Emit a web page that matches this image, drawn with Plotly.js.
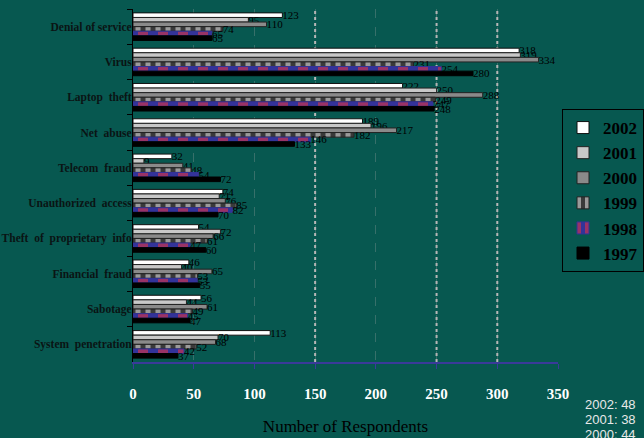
<!DOCTYPE html>
<html>
<head>
<meta charset="utf-8">
<script src="https://cdn.plot.ly/plotly-3.0.1.min.js"></script>
<style>html,body{margin:0;padding:0;background:#075850;}#chart{width:644px;height:438px;}</style>
</head>
<body>
<div id="chart"></div>
<script>
var categories = ["Denial of service","Virus","Laptop  theft","Net  abuse","Telecom  fraud","Unauthorized  access","Theft  of  proprietary  info","Financial  fraud","Sabotage","System  penetration"];
var years = ["2002","2001","2000","1999","1998","1997"];
var v2002 = [123,318,222,189,32,74,54,46,56,113];
var v2001 = [95,319,250,196,9,71,72,40,44,70];
var v2000 = [110,334,288,217,41,76,66,65,61,68];
var v1999 = [74,231,249,182,48,85,61,53,49,52];
var v1998 = [65,254,247,146,54,82,47,53,45,42];
var v1997 = [65,280,248,133,72,70,60,55,47,37];
var respondents = ["2002: 48","2001: 38","2000: 44"];
var xTicks = [0,50,100,150,200,250,300,350];
var strongGrid = [150,250,300];

var series = [v2002,v2001,v2000,v1999,v1998,v1997];
var markers = [
  {color:"#ffffff", line:{color:"#111111", width:1}},
  {color:"#c8c8c8", line:{color:"#222222", width:1}},
  {color:"#8a8a8a", line:{color:"#222222", width:1}},
  {color:"#3a3a3a", line:{color:"#222222", width:1}, pattern:{shape:"|", fgcolor:"#9a9a9a", bgcolor:"#3a3a3a", size:10, solidity:0.5}},
  {color:"#333399", line:{color:"#333399", width:1}, pattern:{shape:"|", fgcolor:"#993366", bgcolor:"#333399", size:20, solidity:0.5}},
  {color:"#000000", line:{color:"#000000", width:1}}
];
var serif = "Liberation Serif, Times New Roman, serif";
var traces = series.map(function(vals, i){
  return {
    type:"bar", orientation:"h", name:years[i], legendgroup:years[i],
    y:categories, x:vals, text:vals.map(String),
    textposition:"outside", constraintext:"none", cliponaxis:false,
    textfont:{family:serif, size:11, color:"#000000"},
    marker:markers[i], hoverinfo:"x+name"
  };
});

var shapes = strongGrid.map(function(v){
  return {type:"line", xref:"x", yref:"paper", x0:v, x1:v, y0:0, y1:1,
          line:{color:"#b8b8b8", width:2, dash:"dot"}, layer:"below"};
});

var annotations = respondents.map(function(t, i){
  return {xref:"paper", yref:"paper", x:(583-133)/425, y:(362-404-i*15)/353,
          xanchor:"left", yanchor:"middle", showarrow:false, text:t,
          font:{family:"Liberation Sans, Arial, sans-serif", size:13, color:"#e8e8e8"}};
});

var layout = {
  width:644, height:438,
  paper_bgcolor:"#075850", plot_bgcolor:"#075850",
  margin:{l:133, r:86, t:9, b:76, autoexpand:false},
  barmode:"group", bargap:0.22, bargroupgap:0,
  showlegend:true,
  legend:{x:(562-133)/425, y:(362-109)/353, xanchor:"left", yanchor:"top",
          bgcolor:"rgba(0,0,0,0)", bordercolor:"#000000", borderwidth:1,
          traceorder:"normal", tracegroupgap:8,
          font:{family:serif, size:17, color:"#000000", weight:"bold"}},
  xaxis:{range:[0,350], tickvals:xTicks, ticktext:xTicks.map(String),
         showgrid:true, gridcolor:"rgba(170,170,170,0.3)", griddash:"dash", gridwidth:1,
         zeroline:false, showline:true, linecolor:"#3a3a9a", linewidth:2,
         ticks:"outside", ticklen:5, tickcolor:"#3a3a9a", ticklabelstandoff:12,
         tickfont:{family:serif, size:15, color:"#ffffff", weight:"bold"},
         title:{text:"Number of Respondents", standoff:19, font:{family:serif, size:17, color:"#000000"}},
         fixedrange:true},
  yaxis:{type:"category", autorange:"reversed", showgrid:false, zeroline:false,
         showline:true, linecolor:"#000000", linewidth:1,
         ticks:"outside", ticklen:5, tickcolor:"#000000", tickson:"boundaries",
         ticklabelstandoff:-2,
         tickfont:{family:serif, size:11.5, color:"#0a1414", weight:"bold"},
         fixedrange:true},
  shapes:shapes,
  annotations:annotations
};
Plotly.newPlot("chart", traces, layout, {displayModeBar:false, staticPlot:true});
</script>
</body>
</html>
